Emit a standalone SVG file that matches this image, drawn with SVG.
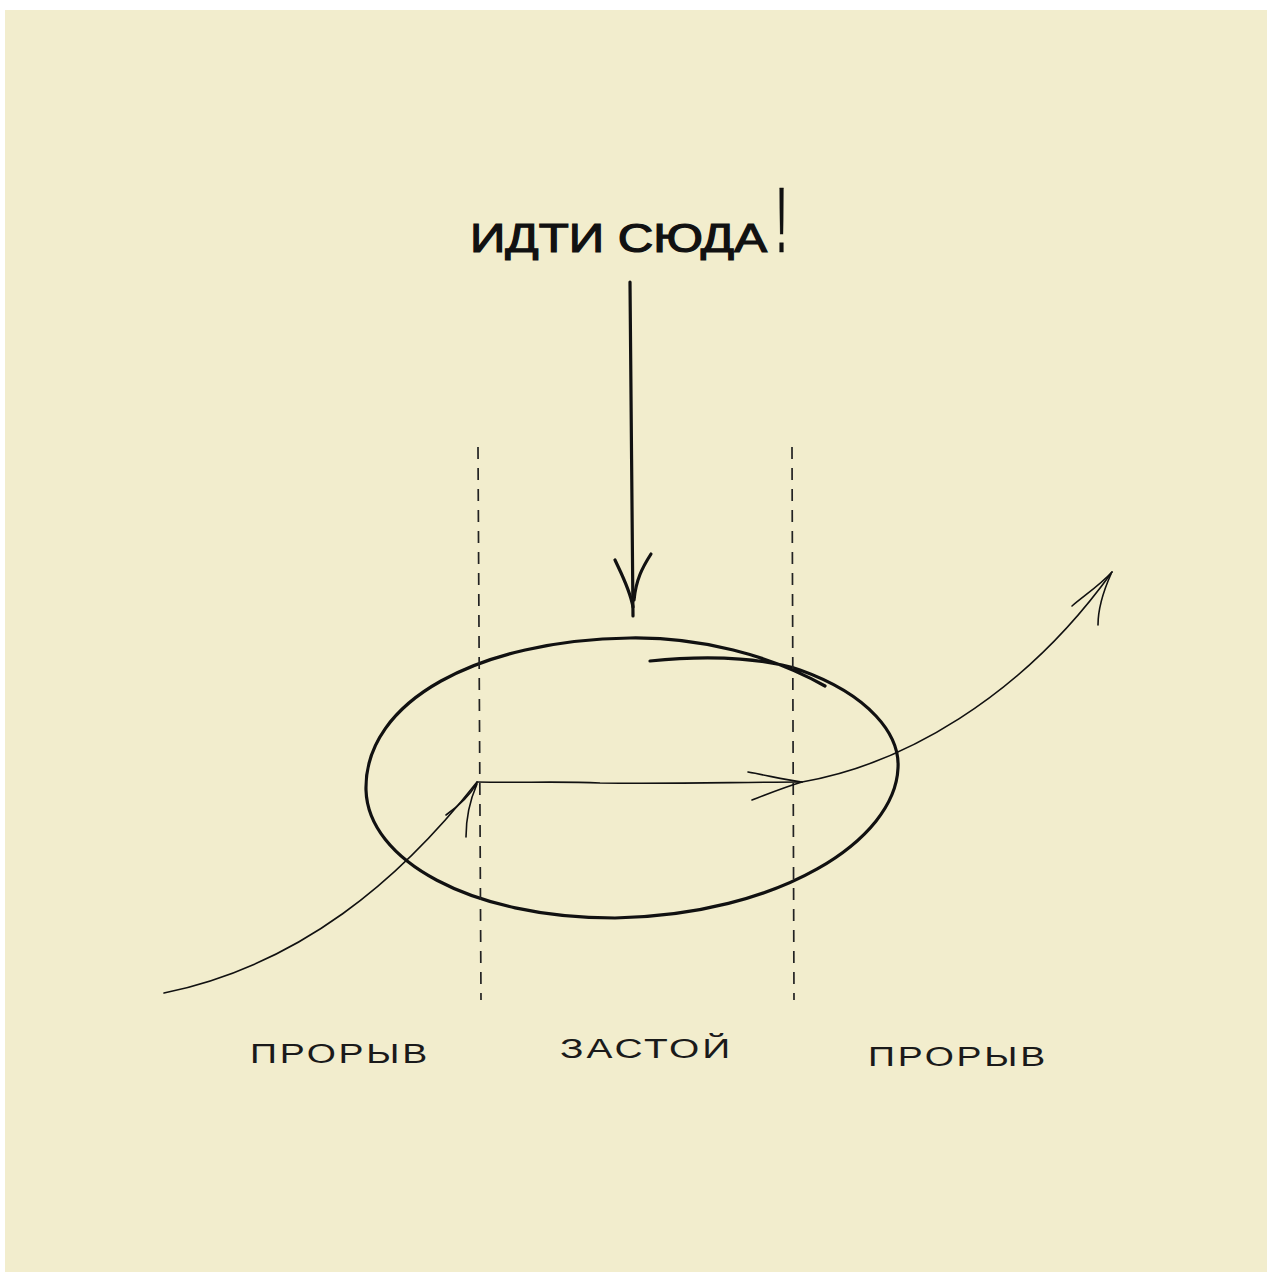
<svg xmlns="http://www.w3.org/2000/svg" width="1271" height="1272" viewBox="0 0 1271 1272">
<style>
.ink{fill:none;stroke:#111;stroke-linecap:round;stroke-linejoin:round}
.thin{stroke-width:1.6}
.bold{stroke-width:3.2}
.dash{fill:none;stroke:#222;stroke-width:1.7;stroke-dasharray:12 9}
.lbl{font-family:"Liberation Sans","DejaVu Sans",sans-serif;font-size:27px;fill:#1a1a1a;letter-spacing:2px}
.title{font-family:"Liberation Sans","DejaVu Sans",sans-serif;font-size:40px;fill:#111;stroke:#111;stroke-width:1.2}
</style>
<rect x="0" y="0" width="1271" height="1272" fill="#ffffff"/>
<rect x="5" y="10" width="1262" height="1262" fill="#f2edcd"/>

<g id="title">
<text class="title" x="470" y="252" textLength="297" lengthAdjust="spacingAndGlyphs">ИДТИ СЮДА</text>
<text class="title" transform="translate(776,252) scale(1,2.3)" x="0" y="0" style="stroke-width:0.3">!</text>
</g>

<g id="stagnation-ellipse">
<path class="ink bold" d="M650,661 C720,654 770,660 800,670 C870,695 900,735 898,768 C895,840 780,915 615,918 C470,918 368,860 366,790 C364,700 480,640 630,638 C700,637 770,655 825,686"/>
</g>

<g id="boundaries">
<line class="dash" x1="478" y1="447" x2="481" y2="1000"/>
<line class="dash" x1="792" y1="447" x2="794" y2="1000"/>
</g>

<g id="labels">
<text class="lbl" x="250" y="1063" textLength="180" lengthAdjust="spacingAndGlyphs">ПРОРЫВ</text>
<text class="lbl" x="560" y="1058" textLength="173" lengthAdjust="spacingAndGlyphs">ЗАСТОЙ</text>
<text class="lbl" x="868" y="1066" textLength="180" lengthAdjust="spacingAndGlyphs">ПРОРЫВ</text>
</g>

<g id="connectors">
<path class="ink bold" d="M630,282 C631,400 632,500 633,616"/>
<path class="ink bold" d="M615,560 C622,575 630,590 633,607 M651,554 C642,568 636,580 634,600"/>

<path class="ink thin" d="M164,993 C300,965 400,880 477,782"/>
<path class="ink thin" d="M446,815 C460,805 470,795 477,783 M466,837 C466,820 470,800 477,784"/>

<path class="ink thin" d="M477,782 C520,783 560,781 600,783 C680,784 740,782 802,782"/>
<path class="ink thin" d="M748,772 C770,776 785,780 802,782 M752,800 C770,793 785,787 802,782"/>

<path class="ink thin" d="M802,782 C900,765 1020,700 1112,572"/>
<path class="ink thin" d="M1072,606 C1085,595 1100,585 1112,572 M1098,625 C1098,610 1103,592 1111,574"/>
</g>
</svg>
